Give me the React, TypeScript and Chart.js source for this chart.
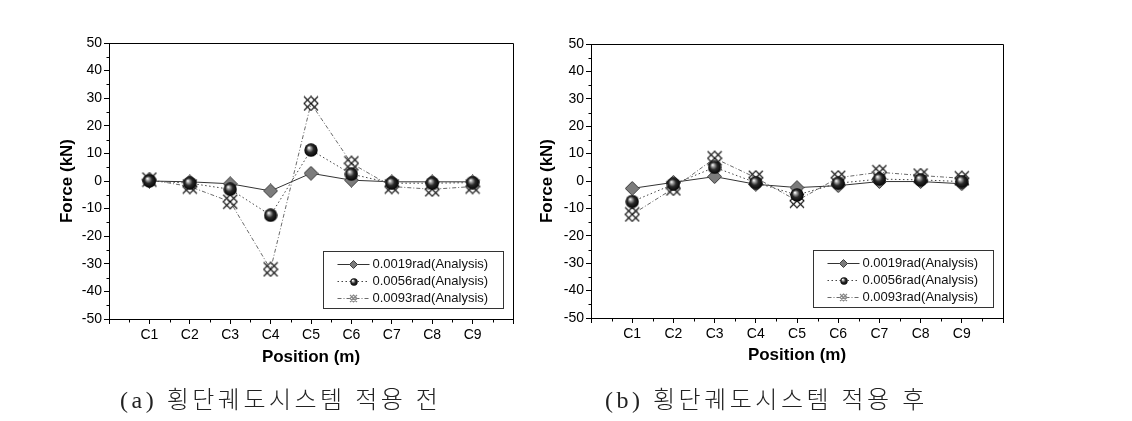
import React, { useEffect, useRef } from "react";
import { Chart, registerables } from "chart.js";

Chart.register(...registerables);

// ---------- data ----------
const categories = ["C1", "C2", "C3", "C4", "C5", "C6", "C7", "C8", "C9"];
const seriesLabels = ["0.0019rad(Analysis)", "0.0056rad(Analysis)", "0.0093rad(Analysis)"];

// (a) before applying the transverse track system
const beforeS1 = [0, -0.3, -1, -3.6, 2.8, 0.3, -0.3, -0.3, -0.3];
const beforeS2 = [0, -0.8, -3, -12.4, 11.2, 2.5, -0.8, -0.8, -0.6];
const beforeS3 = [0.5, -2, -7.5, -32, 28.1, 6.4, -2, -3, -2];

// (b) after applying the transverse track system
const afterS1 = [-2.7, -0.5, 1.6, -1.2, -2.4, -1.7, -0.2, -0.2, -1];
const afterS2 = [-7.5, -1.2, 5, -0.6, -5.1, -0.8, 0.7, 0.4, -0.2];
const afterS3 = [-12.2, -2.7, 8.3, 1.2, -7.2, 1.2, 3.2, 2, 1];

const yMin = -50;
const yMax = 50;
const yStep = 10;
const xTitle = "Position (m)";
const yTitle = "Force (kN)";
const captions = ["(a) 횡단궤도시스템 적용 전", "(b) 횡단궤도시스템 적용 후"];

// ---------- markers ----------
function makeBall(size: number) {
  const c = document.createElement("canvas");
  c.width = size;
  c.height = size;
  const ctx = c.getContext("2d")!;
  const r = size / 2;
  const g = ctx.createRadialGradient(r * 0.7, r * 0.65, 0.3, r, r, r);
  g.addColorStop(0, "#ffffff");
  g.addColorStop(0.18, "#a8a8a8");
  g.addColorStop(0.5, "#2a2a2a");
  g.addColorStop(1, "#000000");
  ctx.fillStyle = g;
  ctx.beginPath();
  ctx.arc(r, r, r - 0.3, 0, Math.PI * 2);
  ctx.fill();
  return c;
}

function makeCross(size: number, color: string) {
  const c = document.createElement("canvas");
  c.width = size;
  c.height = size;
  const ctx = c.getContext("2d")!;
  const a = 1;
  const b = size - 1;
  const m = size / 2;
  ctx.strokeStyle = color;
  ctx.lineWidth = 1.1;
  ctx.beginPath();
  ctx.moveTo(a, a);
  ctx.lineTo(b, b);
  ctx.moveTo(b, a);
  ctx.lineTo(a, b);
  ctx.moveTo(m, a);
  ctx.lineTo(b, m);
  ctx.lineTo(m, b);
  ctx.lineTo(a, m);
  ctx.closePath();
  ctx.stroke();
  return c;
}

function makeDiamond(size: number) {
  const c = document.createElement("canvas");
  c.width = size;
  c.height = size;
  const ctx = c.getContext("2d")!;
  const m = size / 2;
  ctx.fillStyle = "#7c7c7c";
  ctx.strokeStyle = "#3c3c3c";
  ctx.lineWidth = 1;
  ctx.beginPath();
  ctx.moveTo(m, 0.5);
  ctx.lineTo(size - 0.5, m);
  ctx.lineTo(m, size - 0.5);
  ctx.lineTo(0.5, m);
  ctx.closePath();
  ctx.fill();
  ctx.stroke();
  return c;
}

const FONT = "'Liberation Sans', Arial, sans-serif";

// ---------- plugins ----------
const framePlugin = {
  id: "frameAndMinor",
  afterDraw(chart: any) {
    const { ctx, chartArea } = chart;
    const { left, right, top, bottom } = chartArea;
    const xs = chart.scales.x;
    const ys = chart.scales.y;
    ctx.save();
    ctx.strokeStyle = "#000";
    ctx.lineWidth = 1;
    const L = Math.round(left) + 0.5;
    const R = Math.round(right) + 0.5;
    const T = Math.round(top) + 0.5;
    const B = Math.round(bottom) + 0.5;
    ctx.beginPath();
    ctx.moveTo(L, T);
    ctx.lineTo(R, T);
    ctx.lineTo(R, B);
    ctx.stroke();
    // minor ticks
    ctx.beginPath();
    for (let v = yMin + yStep / 2; v < yMax; v += yStep) {
      const py = Math.round(ys.getPixelForValue(v)) + 0.5;
      ctx.moveTo(L - 3, py);
      ctx.lineTo(L, py);
    }
    for (let v = 0.5; v < categories.length + 1; v += 1) {
      const px = Math.round(xs.getPixelForValue(v)) + 0.5;
      ctx.moveTo(px, B);
      ctx.lineTo(px, B + 3);
    }
    ctx.stroke();
    ctx.restore();
  },
};

const legendPlugin = {
  id: "boxLegend",
  afterDraw(chart: any) {
    const { ctx, chartArea } = chart;
    const w = 180;
    const h = 57;
    const x0 = Math.round(chartArea.right - 10 - w) + 0.5;
    const y0 = Math.round(chartArea.bottom - 11 - h) + 0.5;
    ctx.save();
    ctx.fillStyle = "#fff";
    ctx.fillRect(x0, y0, w, h);
    ctx.strokeStyle = "#333";
    ctx.lineWidth = 1;
    ctx.strokeRect(x0, y0, w, h);
    const rows = [12, 29, 46];
    chart.data.datasets.forEach((ds: any, i: number) => {
      const y = Math.round(y0 + rows[i]) + 0.5;
      ctx.strokeStyle = ds.borderColor;
      ctx.lineWidth = 1;
      ctx.setLineDash(ds.borderDash || []);
      ctx.beginPath();
      ctx.moveTo(x0 + 14, y);
      ctx.lineTo(x0 + 46, y);
      ctx.stroke();
      ctx.setLineDash([]);
      const img = ds.legendImage;
      const s = img.width;
      ctx.drawImage(img, Math.round(x0 + 30 - s / 2), Math.round(y - s / 2));
      ctx.fillStyle = "#111";
      ctx.font = `13px ${FONT}`;
      ctx.textBaseline = "middle";
      ctx.textAlign = "left";
      ctx.fillText(ds.label, x0 + 49, y);
    });
    ctx.restore();
  },
};

// ---------- chart component ----------
type PanelProps = {
  s1: number[];
  s2: number[];
  s3: number[];
  left: number;
  width: number;
  padding: { left: number; top: number; right: number; bottom: number };
  yWidth: number;
  xHeight: number;
};

function Panel({ s1, s2, s3, left, width, padding, yWidth, xHeight }: PanelProps) {
  const ref = useRef<HTMLCanvasElement | null>(null);
  useEffect(() => {
    const canvas = ref.current!;
    const toPts = (arr: number[]) => arr.map((y, i) => ({ x: i + 1, y }));
    const diamond = makeDiamond(15);
    const ball = makeBall(14);
    const cross = makeCross(16, "#111");
    const chart = new Chart(canvas, {
      type: "line",
      data: {
        datasets: [
          {
            label: seriesLabels[0],
            data: toPts(s1),
            borderColor: "#333333",
            borderWidth: 1,
            pointStyle: diamond as any,
            order: 2,
            legendImage: makeDiamond(9),
          } as any,
          {
            label: seriesLabels[1],
            data: toPts(s2),
            borderColor: "#444444",
            borderWidth: 1,
            borderDash: [1.5, 2.5],
            pointStyle: ball as any,
            order: 0,
            legendImage: makeBall(8),
          } as any,
          {
            label: seriesLabels[2],
            data: toPts(s3),
            borderColor: "#6a6a6a",
            borderWidth: 1,
            borderDash: [4, 2, 1, 2],
            pointStyle: cross as any,
            order: 1,
            legendImage: makeCross(9, "#888"),
          } as any,
        ],
      },
      options: {
        responsive: false,
        animation: false,
        devicePixelRatio: 1,
        layout: { padding },
        plugins: { legend: { display: false }, tooltip: { enabled: false } },
        elements: { line: { tension: 0 }, point: { radius: 7 } },
        scales: {
          x: {
            type: "linear",
            min: 0,
            max: categories.length + 1,
            afterFit: (s: any) => {
              s.height = xHeight;
            },
            ticks: {
              stepSize: 1,
              autoSkip: false,
              maxRotation: 0,
              padding: 3,
              color: "#000",
              font: { family: FONT, size: 14 },
              callback: (v: any) => categories[Number(v) - 1] ?? "",
            },
            grid: { display: true, drawOnChartArea: false, drawTicks: true, tickLength: 5, color: "#000" },
            border: { display: true, color: "#000", width: 1 },
            title: {
              display: true,
              text: xTitle,
              color: "#000",
              padding: { top: 0, bottom: 0 },
              font: { family: FONT, size: 17, weight: "bold" },
            },
          },
          y: {
            type: "linear",
            min: yMin,
            max: yMax,
            afterFit: (s: any) => {
              s.width = yWidth;
            },
            ticks: {
              stepSize: yStep,
              padding: 2,
              color: "#000",
              font: { family: FONT, size: 14 },
            },
            grid: { display: true, drawOnChartArea: false, drawTicks: true, tickLength: 5, color: "#000" },
            border: { display: true, color: "#000", width: 1 },
            title: {
              display: true,
              text: yTitle,
              color: "#000",
              padding: { top: 0, bottom: 0 },
              font: { family: FONT, size: 17, weight: "bold" },
            },
          },
        },
      } as any,
      plugins: [framePlugin, legendPlugin],
    });
    return () => chart.destroy();
  }, []);
  return (
    <canvas
      ref={ref}
      width={width}
      height={421}
      style={{ position: "absolute", left, top: 0, width, height: 421 }}
    />
  );
}

export default function App() {
  const capStyle: React.CSSProperties = {
    position: "absolute",
    top: 385,
    fontFamily: "'Liberation Serif', 'Noto Sans CJK KR', serif",
    fontSize: 24,
    fontWeight: 300,
    color: "#222",
    whiteSpace: "pre",
    letterSpacing: 3.5,
    lineHeight: "30px",
  };
  return (
    <div style={{ position: "absolute", left: 0, top: 0, width: 1132, height: 421, background: "#fff" }}>
      <Panel
        s1={beforeS1}
        s2={beforeS2}
        s3={beforeS3}
        left={0}
        width={525}
        padding={{ left: 57, top: 43, right: 12, bottom: 53 }}
        yWidth={52}
        xHeight={49}
      />
      <Panel
        s1={afterS1}
        s2={afterS2}
        s3={afterS3}
        left={525}
        width={607}
        padding={{ left: 12, top: 44, right: 129, bottom: 55 }}
        yWidth={54}
        xHeight={48}
      />
      <div style={{ ...capStyle, left: 120 }}>{captions[0]}</div>
      <div style={{ ...capStyle, left: 605 }}>{captions[1]}</div>
    </div>
  );
}
